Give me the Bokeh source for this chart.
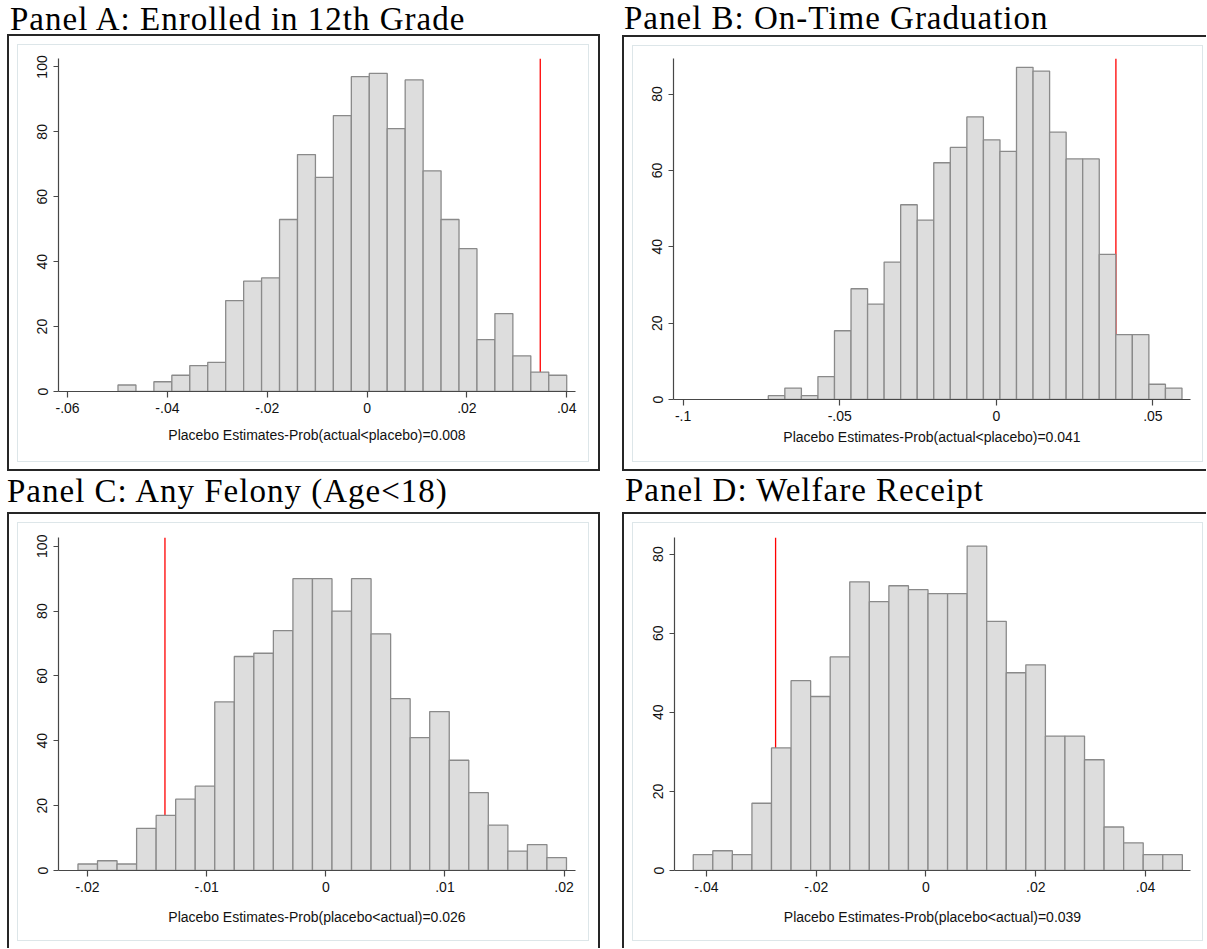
import numpy as np
from bokeh.plotting import figure
from bokeh.models import FixedTicker, Range1d, CustomJSTickFormatter, Div
from bokeh.layouts import column, row
from bokeh.embed import file_html
from bokeh.resources import INLINE

# ---- data: placebo-estimate histograms (1000 draws each, 25 bins) ----
a_title = "Panel A: Enrolled in 12th Grade"
a_counts = [2, 0, 3, 5, 8, 9, 28, 34, 35, 53, 73, 66, 85, 97, 98, 81, 96, 68, 53, 44, 16, 24, 11, 6, 5]
a_bin_lo, a_bin_hi = -0.0499, 0.0400
a_actual = 0.0347
a_xlabel = "Placebo Estimates-Prob(actual<placebo)=0.008"
a_xticks = [-0.06, -0.04, -0.02, 0, 0.02, 0.04]
a_yticks = [0, 20, 40, 60, 80, 100]

b_title = "Panel B: On-Time Graduation"
b_counts = [1, 3, 1, 6, 18, 29, 25, 36, 51, 47, 62, 66, 74, 68, 65, 87, 86, 70, 63, 63, 38, 17, 17, 4, 3]
b_bin_lo, b_bin_hi = -0.0728, 0.0593
b_actual = 0.0382
b_xlabel = "Placebo Estimates-Prob(actual<placebo)=0.041"
b_xticks = [-0.1, -0.05, 0, 0.05]
b_yticks = [0, 20, 40, 60, 80]

c_title = "Panel C: Any Felony (Age<18)"
c_counts = [2, 3, 2, 13, 17, 22, 26, 52, 66, 67, 74, 90, 90, 80, 90, 73, 53, 41, 49, 34, 24, 14, 6, 8, 4]
c_bin_lo, c_bin_hi = -0.0208, 0.0202
c_actual = -0.0135
c_xlabel = "Placebo Estimates-Prob(placebo<actual)=0.026"
c_xticks = [-0.02, -0.01, 0, 0.01, 0.02]
c_yticks = [0, 20, 40, 60, 80, 100]

d_title = "Panel D: Welfare Receipt"
d_counts = [4, 5, 4, 17, 31, 48, 44, 54, 73, 68, 72, 71, 70, 70, 82, 63, 50, 52, 34, 34, 28, 11, 7, 4, 4]
d_bin_lo, d_bin_hi = -0.0424, 0.0467
d_actual = -0.0274
d_xlabel = "Placebo Estimates-Prob(placebo<actual)=0.039"
d_xticks = [-0.04, -0.02, 0, 0.02, 0.04]
d_yticks = [0, 20, 40, 60, 80]

SANS = "Liberation Sans"
SERIF = "Liberation Serif"
AXIS_COLOR = "#474747"
FRAME_COLOR = "#262626"
INNER_COLOR = "#dde6e9"

# Stata-style tick labels: drop the leading zero (".02", "-.05")
stata_fmt = CustomJSTickFormatter(code="""
    if (Math.abs(tick) < 1e-12) { return "0"; }
    var s = (Math.round(tick * 1000) / 1000).toString();
    return s.replace("0.", ".");
""")


def make_hist(counts, lo, hi, actual, xlabel, xticks, yticks, size, borders, xr, ytop,
              label_standoff):
    w, h = size
    bl, br, bt, bb = borders
    p = figure(width=w, height=h, output_backend="svg", toolbar_location=None,
               x_range=Range1d(*xr), y_range=Range1d(0, ytop),
               min_border_left=bl, min_border_right=br,
               min_border_top=bt, min_border_bottom=bb)
    p.grid.visible = False
    p.outline_line_color = None
    p.background_fill_color = "white"
    p.border_fill_color = "white"

    edges = np.linspace(lo, hi, len(counts) + 1)
    # actual estimate, drawn first so the bars sit on top of it
    p.segment(x0=[actual], x1=[actual], y0=[0], y1=[ytop],
              line_color="#ff0000", line_width=1.3)
    p.quad(left=edges[:-1], right=edges[1:], bottom=0, top=counts,
           fill_color="#dddddd", line_color="#8a8a8a", line_width=1.3)

    xa = p.xaxis[0]
    xa.ticker = FixedTicker(ticks=xticks)
    xa.formatter = stata_fmt
    xa.axis_label = xlabel
    xa.axis_label_text_font = SANS
    xa.axis_label_text_font_size = "14px"
    xa.axis_label_text_font_style = "normal"
    xa.axis_label_text_color = "#111111"
    xa.axis_label_standoff = label_standoff
    xa.major_label_standoff = 5
    xa.major_tick_out = 6
    xa.major_tick_in = 0

    ya = p.yaxis[0]
    ya.ticker = FixedTicker(ticks=yticks)
    ya.major_label_orientation = "vertical"
    ya.major_label_standoff = 6
    ya.major_tick_out = 5
    ya.major_tick_in = 0

    for ax in (xa, ya):
        ax.axis_line_color = AXIS_COLOR
        ax.axis_line_width = 1.2
        ax.major_tick_line_color = AXIS_COLOR
        ax.major_tick_line_width = 1.2
        ax.minor_tick_line_color = None
        ax.major_label_text_font = SANS
        ax.major_label_text_font_size = "14px"
        ax.major_label_text_color = "#111111"
    return p


def make_panel(title, title_h, title_left, title_dy, fig, outer_margin, outer_border, outer_pad):
    head = Div(text=title, render_as_text=True, height=title_h, margin=(0, 0, 0, title_left),
               styles={"font-family": SERIF, "font-size": "33px", "line-height": f"{title_h}px",
                       "letter-spacing": "1px", "white-space": "nowrap", "color": "#000000",
                       "position": "relative", "top": f"{title_dy}px"})
    inner = column(fig, margin=0, styles={"border": f"1px solid {INNER_COLOR}"})
    outer = column(inner, margin=outer_margin,
                   styles={"border-style": "solid", "border-color": FRAME_COLOR,
                           "border-width": outer_border, "padding": outer_pad})
    return column(head, outer, margin=0)


fa = make_hist(a_counts, a_bin_lo, a_bin_hi, a_actual, a_xlabel, a_xticks, a_yticks,
               (570, 416), (40, 13, 13, 70), (-0.06182, 0.04176), 102.6, 11)
fb = make_hist(b_counts, b_bin_lo, b_bin_hi, b_actual, b_xlabel, b_xticks, b_yticks,
               (569, 415), (40, 12, 12, 62), (-0.10307, 0.06202), 89.3, 5)
fc = make_hist(c_counts, c_bin_lo, c_bin_hi, c_actual, c_xlabel, c_xticks, c_yticks,
               (570, 417), (40, 13, 14, 70), (-0.022435, 0.020957), 102.7, 14)
fd = make_hist(d_counts, d_bin_lo, d_bin_hi, d_actual, d_xlabel, d_xticks, d_yticks,
               (569, 417), (41, 12, 14, 70), (-0.045816, 0.048186), 84.2, 14)

pa = make_panel(a_title, 34, 10, 1.9, fa, (0, 11, 3, 7), "2px", "8px 9px 7px 8px")
pb = make_panel(b_title, 35, 13, 1.4, fb, (0, 0, 3, 11), "2px 0px 2px 2px", "8px 3px 7px 8px")
pc = make_panel(c_title, 38, 7, -2.5, fc, (0, 11, 0, 7), "2px 2px 0px 2px", "8px 9px 7px 8px")
pd_ = make_panel(d_title, 38, 14, -3.5, fd, (0, 0, 0, 11), "2px 0px 0px 2px", "8px 3px 7px 8px")

layout = column(row(pa, pb), row(pc, pd_))
open("out.html", "w").write(file_html(layout, INLINE))
